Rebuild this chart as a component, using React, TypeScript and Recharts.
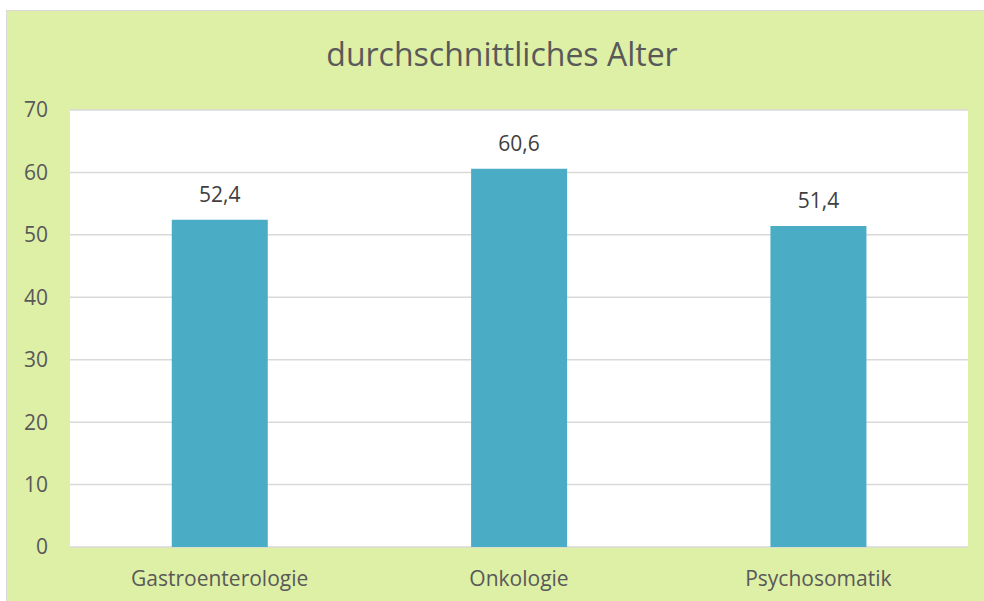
import { BarChart, Bar, XAxis, YAxis, CartesianGrid, LabelList } from 'recharts'

const categories = ['Gastroenterologie', 'Onkologie', 'Psychosomatik']
const averageAge = [52.4, 60.6, 51.4]
const yTicks = [0, 10, 20, 30, 40, 50, 60, 70]

const data = categories.map((name, i) => ({ name, value: averageAge[i] }))

const TEXT = '#595959'
const FONT = '"Open Sans", sans-serif'

export default function App() {
  return (
    <div
      style={{
        position: 'absolute',
        left: 6,
        top: 10,
        width: 990,
        height: 600,
        background: '#DEEFA6',
        border: '1px solid #D9D9D9',
        fontFamily: FONT,
      }}
    >
      <div
        style={{
          position: 'absolute',
          left: 0,
          top: 23,
          width: 990,
          textAlign: 'center',
          fontSize: 32,
          color: TEXT,
          lineHeight: '40px',
        }}
      >
        durchschnittliches Alter
      </div>
      <BarChart
        width={977}
        height={590}
        data={data}
        margin={{ top: 99, right: 16, bottom: 24, left: 13 }}
        barCategoryGap="34%"
      >
        <CartesianGrid vertical={false} stroke="#D9D9D9" strokeWidth={1.5} fill="#ffffff" />
        <XAxis
          dataKey="name"
          height={30}
          axisLine={false}
          tickLine={false}
          tickSize={0}
          tickMargin={24}
          tick={{ fill: TEXT, fontSize: 21, fontFamily: FONT }}
        />
        <YAxis
          width={50}
          domain={[0, 70]}
          ticks={yTicks}
          axisLine={false}
          tickLine={false}
          tickSize={0}
          tickMargin={22}
          tick={{ fill: TEXT, fontSize: 21, fontFamily: FONT }}
        />
        <Bar dataKey="value" fill="#4BACC6" isAnimationActive={false}>
          <LabelList
            dataKey="value"
            position="top"
            offset={18}
            formatter={(v: number) => v.toFixed(1).replace('.', ',')}
            style={{ fill: '#404040', fontSize: 21, fontFamily: FONT }}
          />
        </Bar>
      </BarChart>
    </div>
  )
}
